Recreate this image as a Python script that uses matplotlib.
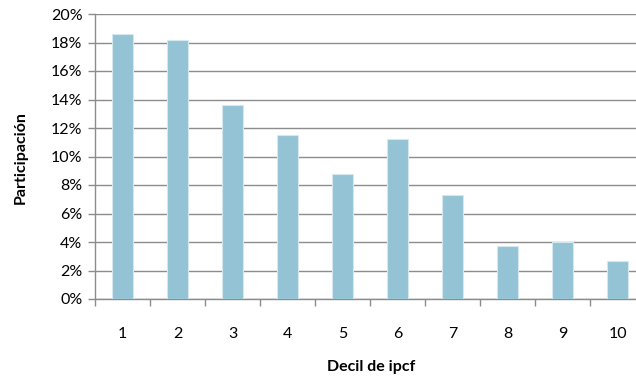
import matplotlib
matplotlib.use("Agg")
import matplotlib.pyplot as plt
from matplotlib.ticker import FuncFormatter, MultipleLocator

deciles = ["1", "2", "3", "4", "5", "6", "7", "8", "9", "10"]
participacion = [18.6, 18.2, 13.6, 11.5, 8.8, 11.2, 7.3, 3.7, 4.0, 2.7]

plt.rcParams["font.family"] = ["Lato", "DejaVu Sans"]

fig = plt.figure(figsize=(6.36, 3.78), dpi=100)
W, H = 636, 378
left, right, bottom, top = 95, 645, 299, 14
ax = fig.add_axes([left / W, 1 - bottom / H, (right - left) / W, (bottom - top) / H])

x = list(range(len(deciles)))
ax.bar(x, participacion, width=0.39, color="#93C3D4", edgecolor="#D6E8EF",
       linewidth=0.8, zorder=3)

ax.set_xlim(-0.5, len(deciles) - 0.5)
ax.set_ylim(0, 20)
ax.yaxis.set_major_locator(MultipleLocator(2))
ax.yaxis.set_major_formatter(FuncFormatter(lambda v, p: f"{v:.0f}%"))
ax.grid(axis="y", color="#8C8C8C", linewidth=1.0, zorder=0)

ax.set_xticks([i - 0.5 for i in range(len(deciles) + 1)])
ax.set_xticklabels([])
ax.set_xticks(x, minor=True)
ax.set_xticklabels(deciles, minor=True)
ax.tick_params(axis="x", which="major", length=5, color="#8C8C8C", width=1)
ax.tick_params(axis="x", which="minor", length=0, pad=20, labelsize=11.5)
ax.tick_params(axis="y", length=5, color="#8C8C8C", width=1, labelsize=11.5, pad=4)

for s in ("top", "right"):
    ax.spines[s].set_visible(False)
for s in ("left", "bottom"):
    ax.spines[s].set_color("#8C8C8C")
    ax.spines[s].set_linewidth(1.0)

fig.text(21 / W, 1 - 158 / H, "Participación", rotation=90, ha="center", va="center",
         fontsize=11.5, fontweight="bold")
fig.text(371 / W, 1 - 367 / H, "Decil de ipcf", ha="center", va="center",
         fontsize=11.5, fontweight="bold")

fig.savefig("out.png", dpi=100)
